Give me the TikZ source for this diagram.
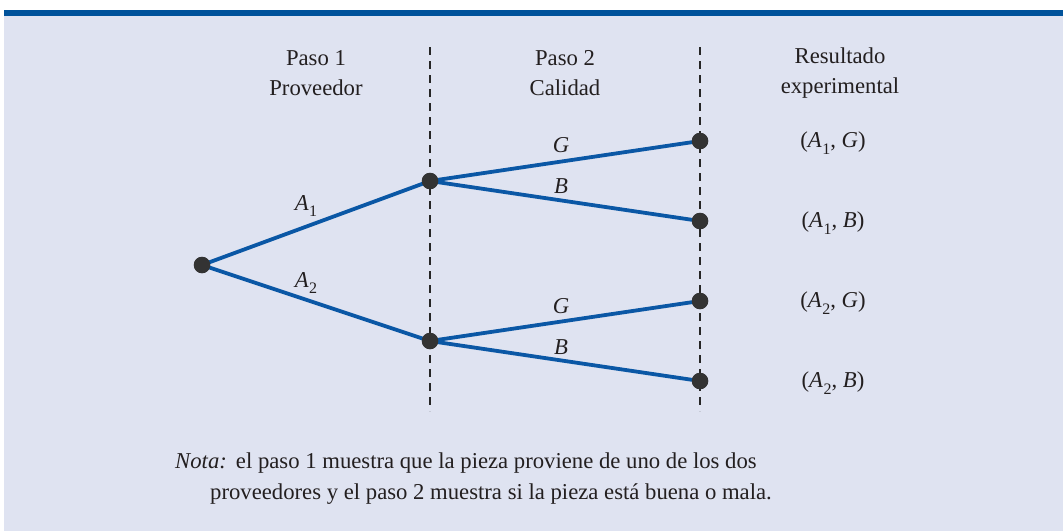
\documentclass[tikz,border=0pt]{standalone}
\usepackage{fontspec}
\setmainfont{Liberation Serif}
\definecolor{bgc}{HTML}{DFE3F1}
\definecolor{barc}{HTML}{00529B}
\definecolor{linec}{HTML}{0A57A5}
\definecolor{dotc}{HTML}{333333}
\definecolor{txtc}{HTML}{231F20}
\newcommand{\subA}[1]{\textit{A}\kern0.5pt\raisebox{-0.28em}{\fontsize{16pt}{16pt}\selectfont #1}}
\begin{document}
\begin{tikzpicture}[x=1pt,y=-1pt,
  every node/.style={text=txtc,font=\fontsize{22.7pt}{30pt}\selectfont},
  br/.style={draw=linec,line width=3.8pt},
  dv/.style={draw=black!85,line width=1.8pt,dash pattern=on 8pt off 6pt},
  pt/.style={circle,fill=dotc,inner sep=0pt,minimum size=16pt},
  hd/.style={align=center},
  lb/.style={inner sep=1pt}]
\useasboundingbox (0,0) rectangle (1063,531);
\fill[white] (0,0) rectangle (1063,531);
\fill[bgc] (4,16) rectangle (1063,531);
\fill[barc] (4,10) rectangle (1063,16);
% dashed separators
\coordinate (d1t) at (430,47); \coordinate (d1b) at (430,411);
\coordinate (d2t) at (700,47); \coordinate (d2b) at (700,411);
\draw[dv] (d1t) -- (d1b);
\draw[dv] (d2t) -- (d2b);
% headers
\node[hd] (h1) at (316,73) {Paso 1\\Proveedor};
\node[hd] (h2) at (565,73) {Paso 2\\Calidad};
\node[hd] (h3) at (840,73) {Resultado\\experimental};
% nodes
\node[pt] (r) at (202,265) {};
\node[pt] (a1) at (430,181) {};
\node[pt] (a2) at (430,341) {};
\node[pt] (l1) at (700,141) {};
\node[pt] (l2) at (700,221) {};
\node[pt] (l3) at (700,301) {};
\node[pt] (l4) at (700,381) {};
% branches
\draw[br] (r.center) -- (a1.center);
\draw[br] (r.center) -- (a2.center);
\draw[br] (a1.center) -- (l1.center);
\draw[br] (a1.center) -- (l2.center);
\draw[br] (a2.center) -- (l3.center);
\draw[br] (a2.center) -- (l4.center);
% redraw dots on top
\foreach \n in {r,a1,a2,l1,l2,l3,l4}{\fill[dotc] (\n.center) circle (8.3pt);}
% branch labels
\node[lb] (ta1) at (306,206) {\subA{1}};
\node[lb] (ta2) at (306,283) {\subA{2}};
\node[lb] (tg1) at (561,145) {\textit{G}};
\node[lb] (tb1) at (561,186) {\textit{B}};
\node[lb] (tg2) at (561,306) {\textit{G}};
\node[lb] (tb2) at (561,347) {\textit{B}};
% outcomes
\node (o1) at (833,143) {(\subA{1}, \textit{G})};
\node (o2) at (833,223) {(\subA{1}, \textit{B})};
\node (o3) at (833,303) {(\subA{2}, \textit{G})};
\node (o4) at (833,383) {(\subA{2}, \textit{B})};
% note
\node[anchor=base west,inner sep=0pt] (n1) at (175,468) {\textit{Nota:}\hspace{0.4em}el paso 1 muestra que la pieza proviene de uno de los dos};
\node[anchor=base west,inner sep=0pt] (n2) at (210,499) {proveedores y el paso 2 muestra si la pieza está buena o mala.};
\end{tikzpicture}
\end{document}
